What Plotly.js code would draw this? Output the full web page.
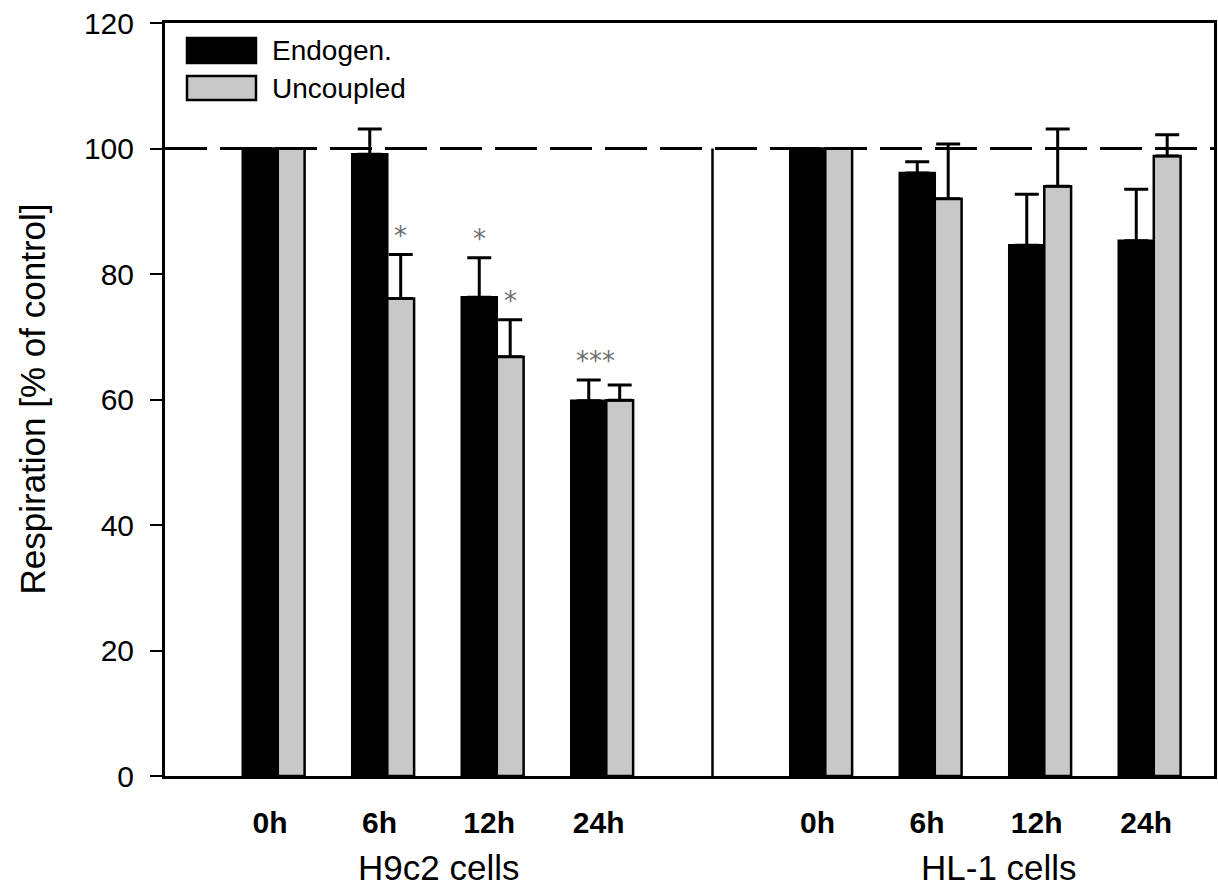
<!DOCTYPE html>
<html>
<head>
<meta charset="utf-8">
<script src="https://cdn.plot.ly/plotly-3.0.1.min.js"></script>
<style>html,body{margin:0;padding:0;background:#fff;}#chart{width:1218px;height:890px;}</style>
</head>
<body>
<div id="chart"></div>
<script>
// ---- data ----
var cellLines = ["H9c2 cells", "HL-1 cells"];
var timePoints = ["0h", "6h", "12h", "24h"];
var seriesNames = ["Endogen.", "Uncoupled"];
var endogen      = [100, 99.1, 76.3, 59.8, 100, 96.1, 84.6, 85.3];
var endogenErr   = [0, 4.0, 6.3, 3.3, 0, 1.8, 8.1, 8.2];
var uncoupled    = [100, 76.1, 66.8, 59.9, 100, 92.0, 94.0, 98.8];
var uncoupledErr = [0, 7.0, 5.9, 2.4, 0, 8.7, 9.1, 3.4];
var sigEndogen   = ["", "", "*", "", "", "", "", ""];
var sigUncoupled = ["", "*", "*", "", "", "", "", ""];
var sigGroup     = ["", "", "", "***", "", "", "", ""];
var yTicks = [0, 20, 40, 60, 80, 100, 120];
var controlLevel = 100;

// ---- layout helpers ----
var W = 1218, H = 890;
var mL = 165, mR = 4, mT = 23, mB = 114;
var plotW = W - mL - mR, plotH = H - mT - mB;
function px2paperX(px) { return (px - mL) / plotW; }
function px2paperY(py) { return (H - mB - py) / plotH; }

// x positions: slot per time point, one empty slot between cell lines
var xPos = [];
var tickText = [];
cellLines.forEach(function (c, g) {
  timePoints.forEach(function (t, i) {
    xPos.push(g * (timePoints.length + 1) + i);
    tickText.push(t);
  });
});
var dividerX = timePoints.length;

var FONT = "Liberation Sans, Arial, sans-serif";
var blackOff = -0.29, blackW = 0.32, greyOff = 0.03, greyW = 0.245;

var traces = [
  {
    type: "bar", name: seriesNames[0], x: xPos, y: endogen,
    offset: blackOff, width: blackW,
    marker: { color: "#000000", line: { color: "#000000", width: 2.5 } },
    error_y: { type: "data", symmetric: false, array: endogenErr,
               arrayminus: endogenErr.map(function () { return 0; }),
               color: "#000000", thickness: 3, width: 12 },
    showlegend: false, hoverinfo: "y"
  },
  {
    type: "bar", name: seriesNames[1], x: xPos, y: uncoupled,
    offset: greyOff, width: greyW,
    marker: { color: "#c8c8c8", line: { color: "#000000", width: 2.5 } },
    error_y: { type: "data", symmetric: false, array: uncoupledErr,
               arrayminus: uncoupledErr.map(function () { return 0; }),
               color: "#000000", thickness: 3, width: 12 },
    showlegend: false, hoverinfo: "y"
  }
];

var STAR_FONT = { family: "DejaVu Sans, Liberation Sans, sans-serif", size: 26, color: "#6e6e6e" };
var annotations = [];
function addStars(arr, vals, errs, off, w) {
  arr.forEach(function (s, i) {
    if (!s) return;
    annotations.push({
      x: xPos[i] + off + w / 2, y: vals[i] + errs[i], xref: "x", yref: "y",
      text: s, showarrow: false, yanchor: "bottom", yshift: 2,
      font: STAR_FONT
    });
  });
}
addStars(sigEndogen, endogen, endogenErr, blackOff, blackW);
addStars(sigUncoupled, uncoupled, uncoupledErr, greyOff, greyW);
sigGroup.forEach(function (s, i) {
  if (!s) return;
  var top = Math.max(endogen[i] + endogenErr[i], uncoupled[i] + uncoupledErr[i]);
  annotations.push({
    x: xPos[i] - 0.07, y: top, xref: "x", yref: "y",
    text: s, showarrow: false, yanchor: "bottom", yshift: 2,
    font: STAR_FONT
  });
});

// group labels
var groupLabelX = [1.5, 6.62];
cellLines.forEach(function (c, g) {
  annotations.push({
    x: groupLabelX[g], y: px2paperY(868), xref: "x", yref: "paper",
    text: c, showarrow: false, yanchor: "middle", xanchor: "center",
    font: { family: FONT, size: 35, color: "#000" }
  });
});

// y-axis title
annotations.push({
  x: px2paperX(32), y: 0.5, xref: "paper", yref: "paper",
  text: "Respiration [% of control]", textangle: -90, showarrow: false,
  xanchor: "center", yanchor: "middle",
  font: { family: FONT, size: 35, color: "#000" }
});

// legend (manual)
var shapes = [];
var legendFill = ["#000000", "#c8c8c8"];
var legendRows = [[38, 63], [76, 100]];
seriesNames.forEach(function (n, k) {
  shapes.push({
    type: "rect", xref: "paper", yref: "paper",
    x0: px2paperX(187), x1: px2paperX(256),
    y0: px2paperY(legendRows[k][1]), y1: px2paperY(legendRows[k][0]),
    fillcolor: legendFill[k], line: { color: "#000", width: 2.5 }
  });
  annotations.push({
    x: px2paperX(270), y: px2paperY((legendRows[k][0] + legendRows[k][1]) / 2),
    xref: "paper", yref: "paper", text: n, showarrow: false,
    xanchor: "left", yanchor: "middle",
    font: { family: FONT, size: 28, color: "#000" }
  });
});

// control line and divider
shapes.push({
  type: "line", xref: "paper", yref: "y", x0: 0, x1: 1, y0: controlLevel, y1: controlLevel,
  line: { color: "#000", width: 3, dash: "42px,13px" }, layer: "above"
});
shapes.push({
  type: "line", xref: "x", yref: "y", x0: dividerX, x1: dividerX, y0: 0, y1: controlLevel,
  line: { color: "#000", width: 2.5 }, layer: "above"
});

var layout = {
  width: W, height: H,
  margin: { l: mL, r: mR, t: mT, b: mB, pad: 0 },
  paper_bgcolor: "#fff", plot_bgcolor: "#fff",
  barmode: "overlay",
  showlegend: false,
  font: { family: FONT, color: "#000" },
  xaxis: {
    range: [-1.0, 8.58], tickmode: "array",
    tickvals: xPos.map(function (v) { return v - 0.04; }), ticktext: tickText,
    ticks: "", showgrid: false, zeroline: false,
    showline: true, linecolor: "#000", linewidth: 3, mirror: true,
    tickfont: { family: FONT, size: 30, weight: "bold", color: "#000" },
    ticklabelstandoff: 18
  },
  yaxis: {
    range: [0, 120], tickmode: "array", tickvals: yTicks,
    ticks: "outside", ticklen: 12, tickwidth: 2, tickcolor: "#000",
    showgrid: false, zeroline: false,
    showline: true, linecolor: "#000", linewidth: 3, mirror: true,
    tickfont: { family: FONT, size: 30, color: "#000" },
    ticklabelstandoff: 10
  },
  shapes: shapes,
  annotations: annotations
};

Plotly.newPlot("chart", traces, layout, { displayModeBar: false, staticPlot: true });
</script>
</body>
</html>
